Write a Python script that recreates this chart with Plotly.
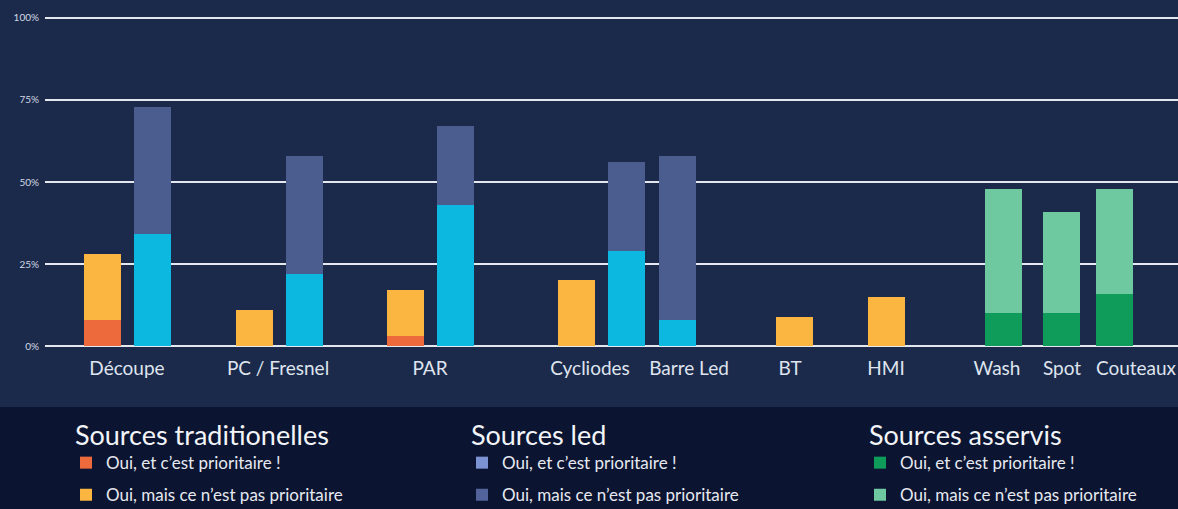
import plotly.graph_objects as go

# ---------------- data ----------------
categories = ["Découpe", "PC / Fresnel", "PAR", "Cycliodes", "Barre Led",
              "BT", "HMI", "Wash", "Spot", "Couteaux"]

# Sources traditionnelles (%): "prioritaire" segment and "pas prioritaire" segment
trad_prio = [8, 0, 3, 0, None, 0, 0, None, None, None]
trad_nonprio = [20, 11, 14, 20, None, 9, 15, None, None, None]

# Sources led (%)
led_prio = [34, 22, 43, 29, 8, None, None, None, None, None]
led_nonprio = [39, 36, 24, 27, 50, None, None, None, None, None]

# Sources asservis (%)
ass_prio = [None, None, None, None, None, None, None, 10, 10, 16]
ass_nonprio = [None, None, None, None, None, None, None, 38, 31, 32]

y_ticks = [0, 25, 50, 75, 100]
y_tick_labels = ["0%", "25%", "50%", "75%", "100%"]

legend_titles = ["Sources traditionelles", "Sources led", "Sources asservis"]
legend_items = ["Oui, et c\u2019est prioritaire !", "Oui, mais ce n\u2019est pas prioritaire"]

# ---------------- layout config (positions / styles) ----------------
GROUP_CENTER = [1.64, 4.68, 7.71, 11.12, 12.65, 14.98, 16.82, 19.16, 20.32, 21.38]
LABEL_POS = [1.64, 4.66, 7.70, 10.90, 12.88, 14.90, 16.82, 19.04, 20.34, 21.82]
PAIR_SHIFT = 0.5
BAR_W = 0.74
X_RANGE = [0, 22.66]

FONT = "Lato"
BG = "#1b2a4b"
BAND = "#0b1431"
GRID = "#e4e8ee"

C_TRAD_P = "#ec6a3c"
C_TRAD_N = "#fbb541"
C_LED_P = "#0cb8e0"
C_LED_N = "#4b5c8e"
C_ASS_P = "#0f9b59"
C_ASS_N = "#6fc9a0"
LEG_COLORS = [[C_TRAD_P, C_TRAD_N], ["#7b93d3", "#51639a"], [C_ASS_P, C_ASS_N]]

fig = go.Figure()


def add_stack(prio, nonprio, other, sign, c_prio, c_non):
    xp, yp, xn, yn, bn = [], [], [], [], []
    for i, (p, n) in enumerate(zip(prio, nonprio)):
        if p is None and n is None:
            continue
        paired = other is not None and other[i] is not None
        x = GROUP_CENTER[i] + (sign * PAIR_SHIFT if paired else 0)
        p = p or 0
        xp.append(x); yp.append(p)
        xn.append(x); yn.append(n or 0); bn.append(p)
    fig.add_trace(go.Bar(x=xp, y=yp, width=BAR_W, marker=dict(color=c_prio, line_width=0),
                         showlegend=False, hoverinfo="skip"))
    fig.add_trace(go.Bar(x=xn, y=yn, base=bn, width=BAR_W, marker=dict(color=c_non, line_width=0),
                         showlegend=False, hoverinfo="skip"))


add_stack(trad_prio, trad_nonprio, led_prio, -1, C_TRAD_P, C_TRAD_N)
add_stack(led_prio, led_nonprio, trad_prio, +1, C_LED_P, C_LED_N)
add_stack(ass_prio, ass_nonprio, None, 0, C_ASS_P, C_ASS_N)

# legend entries
legend_ids = ["legend", "legend2", "legend3"]
for g, lid in enumerate(legend_ids):
    for k, name in enumerate(legend_items):
        fig.add_trace(go.Bar(x=[None], y=[None], name=name, legend=lid,
                             legendgroup=f"{lid}_{k}",
                             marker=dict(color=LEG_COLORS[g][k], line_width=0),
                             showlegend=True))

PLOT_W = 1133.0
PLOT_H = 332.0
PLOT_BOTTOM_PX = 348.0
legend_x = [(66 - 45) / PLOT_W, (462 - 45) / PLOT_W, (860 - 45) / PLOT_W]
legend_y = -(410 - PLOT_BOTTOM_PX) / PLOT_H
for g, lid in enumerate(legend_ids):
    fig.update_layout({lid: dict(
        title=dict(text="\u00a0" + legend_titles[g], side="top",
                   font=dict(family=FONT, size=27, color="#f2f4f8")),
        font=dict(family=FONT, size=17, color="#e6e9f0"),
        bgcolor="rgba(0,0,0,0)", borderwidth=0,
        xref="paper", yref="paper",
        x=legend_x[g], y=legend_y, xanchor="left", yanchor="top",
        tracegroupgap=7, traceorder="grouped", itemclick=False, itemdoubleclick=False,
    )})

fig.add_shape(type="rect", xref="paper", yref="paper",
              x0=-0.05, x1=1.05, y0=-0.7, y1=-(407 - PLOT_BOTTOM_PX) / PLOT_H,
              fillcolor=BAND, line_width=0, layer="below")

fig.update_layout(
    width=1178, height=509,
    margin=dict(l=45, r=0, t=16, b=161, autoexpand=False),
    paper_bgcolor=BG, plot_bgcolor=BG,
    barmode="overlay", bargap=0,
    font=dict(family=FONT, color="#e6e9f0"),
    xaxis=dict(range=X_RANGE, tickvals=LABEL_POS, ticktext=categories,
               showgrid=False, zeroline=False, showline=False, ticks="",
               tickfont=dict(family=FONT, size=19, color="#dfe4ee"),
               ticklabelstandoff=7, tickangle=0, fixedrange=True),
    yaxis=dict(range=[-0.6, 100.6], tickvals=y_ticks, ticktext=y_tick_labels,
               showgrid=True, gridcolor=GRID, gridwidth=2,
               zeroline=True, zerolinecolor=GRID, zerolinewidth=2,
               showline=False, ticks="",
               tickfont=dict(family=FONT, size=10, color="#d3d9e4"),
               ticklabelstandoff=5, fixedrange=True),
)

fig.write_html("out.html", config={"displayModeBar": False})
